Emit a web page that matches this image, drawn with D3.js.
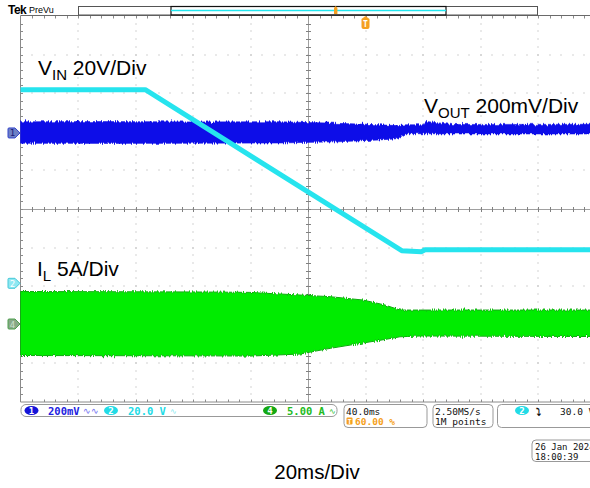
<!DOCTYPE html>
<meta charset="utf-8">
<script src="https://d3js.org/d3.v7.min.js"></script>
<style>
    body { margin: 0; background: #fff; }
    svg { display: block; }
    .big { font-family: "Liberation Sans", Arial, sans-serif; fill: #000; }
    .scope { font-family: "DejaVu Sans Mono", monospace; font-size: 9.5px; }
</style>
<div id="chart"></div>
<script>
    // time axis: 20 ms/div, 10 divisions, trigger at 60 %
    var timeDomain = [0, 200];

    // CH2 Vin (V), 20 V/div
    var vinTime = [0, 43.4, 132.6, 139.5, 140.7, 200];
    var vinVolts = [100.3, 100.3, 16.9, 16.4, 17.4, 17.4];

    // CH1 Vout band (mV), 200 mV/div : upper / lower envelope
    var voutTime = [0, 30, 60, 90, 110, 125, 131, 134, 140, 141, 150, 200];
    var voutUpper = [58, 59, 57, 58, 50, 42, 38, 42, 42, 60, 44, 45];
    var voutLower = [-53, -54, -53, -52, -46, -36, -30, -4, -4, -4, -5, -5];

    // CH4 IL band (A), 5 A/div : upper / lower envelope
    var ilTime = [0, 62.4, 79.8, 83.3, 97.2, 107.7, 119.1, 126.8, 132, 139, 200];
    var ilUpper = [4.21, 4.15, 4.1, 4.02, 3.76, 3.54, 3.11, 2.46, 1.81, 1.81, 1.81];
    var ilLower = [-4.08, -4.12, -4.15, -4.1, -3.89, -3.15, -2.46, -2.0, -1.65, -1.55, -1.62];

    // channel offsets (divisions from centre) and scales (units/div)
    var chOffset = { ch1: 1.97, ch2: -1.925, ch4: -2.98 };
    var chScale = { ch1: 200, ch2: 20, ch4: 5 };

    var W = 590, H = 488;
    var gLeft = 20.5, divW = 57.5, gTop = 16, divH = 38.6;

    var svg = d3.select("#chart").append("svg").attr("width", W).attr("height", H);

    // sampling noise look on the dense traces (vertical jitter of the edges only)
    var defs = svg.append("defs");
    var flt = defs.append("filter").attr("id", "jitter").attr("x", "0%").attr("y", "-30%")
        .attr("width", "100%").attr("height", "160%");
    flt.append("feTurbulence").attr("type", "fractalNoise").attr("baseFrequency", "0.9 0.02")
        .attr("numOctaves", 2).attr("seed", 3).attr("result", "n");
    flt.append("feColorMatrix").attr("in", "n").attr("type", "matrix")
        .attr("values", "0 0 0 0 0.5  0 1 0 0 0  0 0 1 0 0  0 0 0 0 1").attr("result", "n2");
    flt.append("feDisplacementMap").attr("in", "SourceGraphic").attr("in2", "n2")
        .attr("scale", 5).attr("xChannelSelector", "R").attr("yChannelSelector", "G");

    var x = d3.scaleLinear().domain(timeDomain).range([gLeft, gLeft + 10 * divW]);
    var yDiv = d3.scaleLinear().domain([5, -5]).range([gTop, gTop + 10 * divH]);
    var gBottom = yDiv(-5);

    function chY(ch) {
        return function (v) { return yDiv(v / chScale[ch] + chOffset[ch]); };
    }
    var y1 = chY("ch1"), y2 = chY("ch2"), y4 = chY("ch4");

    // ---------- graticule ----------
    var grid = svg.append("g");
    var xMajor = d3.range(1, 10).filter(d => d != 5);
    var yMajor = d3.range(-4, 5).filter(d => d != 0);
    var minorT = d3.range(1, 50);

    // dotted grid: dots every 1/5 division along major lines
    xMajor.forEach(function (i) {
        var gx = Math.round(x(i * 20));
        minorT.forEach(function (k) {
            grid.append("rect").attr("x", gx - 0.5).attr("y", Math.round(yDiv(5 - k / 5)) - 0.5)
                .attr("width", 1).attr("height", 1).attr("fill", "#a8a8a8");
        });
    });
    yMajor.forEach(function (j) {
        var gy = Math.round(yDiv(j));
        minorT.forEach(function (k) {
            grid.append("rect").attr("x", Math.round(x(k * 4)) - 0.5).attr("y", gy - 0.5)
                .attr("width", 1).attr("height", 1).attr("fill", "#a8a8a8");
        });
    });

    // centre cross with ticks
    var cx = Math.round(x(100)) + 0.5, cy = Math.round(yDiv(0)) + 0.5;
    grid.append("line").attr("x1", gLeft).attr("x2", W).attr("y1", cy).attr("y2", cy)
        .attr("stroke", "#a0a0a0").attr("stroke-width", 1);
    grid.append("line").attr("x1", cx).attr("x2", cx).attr("y1", gTop).attr("y2", gBottom)
        .attr("stroke", "#a0a0a0").attr("stroke-width", 1);
    minorT.forEach(function (k) {
        var tx = Math.round(x(k * 4)) + 0.5, ty = Math.round(yDiv(5 - k / 5)) + 0.5;
        grid.append("line").attr("x1", tx).attr("x2", tx).attr("y1", cy - 2.5).attr("y2", cy + 2.5)
            .attr("stroke", "#808080");
        grid.append("line").attr("x1", cx - 2.5).attr("x2", cx + 2.5).attr("y1", ty).attr("y2", ty)
            .attr("stroke", "#808080");
    });

    // frame
    grid.append("line").attr("x1", gLeft).attr("x2", W).attr("y1", gTop - 0.5).attr("y2", gTop - 0.5)
        .attr("stroke", "#6a6a6a");
    grid.append("line").attr("x1", gLeft).attr("x2", W).attr("y1", gBottom).attr("y2", gBottom)
        .attr("stroke", "#8a8a8a");
    grid.append("line").attr("x1", gLeft).attr("x2", gLeft).attr("y1", gTop - 0.5).attr("y2", gBottom)
        .attr("stroke", "#8a8a8a");
    minorT.forEach(function (k) {
        var tx = Math.round(x(k * 4)) + 0.5, ty = Math.round(yDiv(5 - k / 5)) + 0.5;
        grid.append("line").attr("x1", tx).attr("x2", tx).attr("y1", gTop).attr("y2", gTop + 2.5).attr("stroke", "#8a8a8a");
        grid.append("line").attr("x1", tx).attr("x2", tx).attr("y1", gBottom - 2.5).attr("y2", gBottom).attr("stroke", "#8a8a8a");
        grid.append("line").attr("x1", gLeft).attr("x2", gLeft + 2.5).attr("y1", ty).attr("y2", ty).attr("stroke", "#8a8a8a");
    });

    // ---------- waveforms ----------
    var voutData = voutTime.map((t, i) => ({ t: t, hi: voutUpper[i], lo: voutLower[i] }));
    var ilData = ilTime.map((t, i) => ({ t: t, hi: ilUpper[i], lo: ilLower[i] }));
    var vinData = vinTime.map((t, i) => ({ t: t, v: vinVolts[i] }));

    var plot = svg.append("g");

    plot.append("path").datum(voutData)
        .attr("d", d3.area().x(d => x(d.t)).y0(d => y1(d.lo)).y1(d => y1(d.hi)))
        .attr("fill", "#0b0be8").attr("stroke", "#0b0be8").attr("stroke-width", 0.6)
        .attr("filter", "url(#jitter)");

    plot.append("path").datum(ilData)
        .attr("d", d3.area().x(d => x(d.t)).y0(d => y4(d.lo)).y1(d => y4(d.hi)))
        .attr("fill", "#05ec05").attr("stroke", "#12a812").attr("stroke-width", 1)
        .attr("filter", "url(#jitter)");

    plot.append("path").datum(vinData)
        .attr("d", d3.line().x(d => x(d.t)).y(d => y2(d.v)))
        .attr("fill", "none").attr("stroke", "#26e4ee").attr("stroke-width", 5)
        .attr("stroke-linejoin", "round");

    // ---------- ground markers ----------
    function marker(yy, label, fill, stroke, txt) {
        var g = svg.append("g").attr("transform", `translate(0,${yy})`);
        g.append("path").attr("d", "M9,-5 L15,-5 L20,0 L15,5 L9,5 Q8,5 8,4 L8,-4 Q8,-5 9,-5 Z")
            .attr("fill", fill).attr("stroke", stroke).attr("stroke-width", 1);
        g.append("text").attr("x", 12.5).attr("y", 3.5).attr("text-anchor", "middle")
            .attr("class", "scope").style("font-size", "9px").attr("fill", txt).text(label);
    }
    marker(y1(0), "1", "#6d7fc4", "#3344cc", "#1a1a7a");
    marker(y2(0), "2", "#8fe8f2", "#45c8d8", "#ffffff");
    marker(y4(0), "4", "#88a888", "#4da04d", "#c8e0c8");

    // ---------- header ----------
    svg.append("text").attr("x", 8).attr("y", 14).attr("class", "big")
        .style("font-size", "12px").style("font-weight", "bold").style("letter-spacing", "-0.5px").text("Tek");
    svg.append("text").attr("x", 29).attr("y", 13).attr("class", "big")
        .style("font-size", "9px").text("PreVu");
    svg.append("rect").attr("x", 78.5).attr("y", 6.5).attr("width", 459).attr("height", 8.5)
        .attr("fill", "#fff").attr("stroke", "#555").attr("stroke-width", 1);
    svg.append("rect").attr("x", 171).attr("y", 6.5).attr("width", 275).attr("height", 8.5)
        .attr("fill", "none").attr("stroke", "#111").attr("stroke-width", 1.2);
    svg.append("line").attr("x1", 171).attr("x2", 446).attr("y1", 10.5).attr("y2", 10.5)
        .attr("stroke", "#22e6ef").attr("stroke-width", 1.5);
    svg.append("path").attr("d", "M334,14 L334,8 L335.7,6 L337.4,8 L337.4,14 Z").attr("fill", "#f5a020");
    // trigger position marker
    var tx = x(120);
    svg.append("path").attr("d", `M${tx - 4},19 L${tx},16 L${tx + 4},19 L${tx + 4},27 Q${tx + 4},29 ${tx + 2},29 L${tx - 2},29 Q${tx - 4},29 ${tx - 4},27 Z`)
        .attr("fill", "#f5a020");
    svg.append("text").attr("x", tx).attr("y", 27).attr("text-anchor", "middle").attr("class", "scope")
        .style("font-size", "8px").style("font-weight", "bold").attr("fill", "#fff").text("T");

    // ---------- annotations ----------
    function label(xx, yy, main, sub, rest) {
        var t = svg.append("text").attr("x", xx).attr("y", yy).attr("class", "big").style("font-size", "21px");
        t.append("tspan").text(main);
        t.append("tspan").attr("dy", 5).style("font-size", "15px").text(sub);
        t.append("tspan").attr("dy", -5).text(" " + rest);
    }
    label(38, 75, "V", "IN", "20V/Div");
    label(424, 113, "V", "OUT", "200mV/Div");
    label(37, 276, "I", "L", "5A/Div");
    svg.append("text").attr("x", 317).attr("y", 479).attr("text-anchor", "middle").attr("class", "big")
        .style("font-size", "20.5px").text("20ms/Div");

    // ---------- status bar ----------
    var bar = svg.append("g").attr("class", "scope");
    bar.append("rect").attr("x", 21).attr("y", 404.5).attr("width", 316).attr("height", 12).attr("rx", 5)
        .attr("fill", "#fff").attr("stroke", "#999");
    function chip(cxp, label, fill) {
        bar.append("ellipse").attr("cx", cxp).attr("cy", 410.5).attr("rx", 7).attr("ry", 4.5).attr("fill", fill);
        bar.append("text").attr("x", cxp).attr("y", 414).attr("text-anchor", "middle").attr("fill", "#fff")
            .style("font-size", "9px").style("font-weight", "bold").text(label);
    }
    chip(31.5, "1", "#1414d8");
    bar.append("text").attr("x", 48).attr("y", 414.5).attr("fill", "#2222e0").style("font-weight", "bold").style("font-size", "10.5px").text("200mV");
    bar.append("text").attr("x", 83).attr("y", 414).attr("fill", "#6a6af0").style("font-size", "9px").text("∿∿");
    chip(111, "2", "#22dbe6");
    bar.append("text").attr("x", 128).attr("y", 414.5).attr("fill", "#22dbe6").style("font-weight", "bold").style("font-size", "10.5px").text("20.0 V");
    bar.append("text").attr("x", 170).attr("y", 414).attr("fill", "#7fe8ef").style("font-size", "8px").text("∿");
    chip(270, "4", "#13a813");
    bar.append("text").attr("x", 287).attr("y", 414.5).attr("fill", "#22bb22").style("font-weight", "bold").style("font-size", "10.5px").text("5.00 A");
    bar.append("text").attr("x", 329).attr("y", 414).attr("fill", "#22bb22").style("font-size", "8px").text("∿");

    bar.append("rect").attr("x", 344).attr("y", 404.5).attr("width", 83).attr("height", 23).attr("rx", 4)
        .attr("fill", "#fff").attr("stroke", "#999");
    bar.append("text").attr("x", 346).attr("y", 414.5).attr("fill", "#111").text("40.0ms");
    bar.append("rect").attr("x", 346.5).attr("y", 417.5).attr("width", 6).attr("height", 7).attr("rx", 1).attr("fill", "#f5a020");
    bar.append("text").attr("x", 349.5).attr("y", 424).attr("text-anchor", "middle").attr("fill", "#fff")
        .style("font-size", "7px").style("font-weight", "bold").text("T");
    bar.append("text").attr("x", 355).attr("y", 425).attr("fill", "#f5a020").style("font-weight", "bold").text("60.00 %");

    bar.append("rect").attr("x", 433).attr("y", 404.5).attr("width", 60).attr("height", 23).attr("rx", 4)
        .attr("fill", "#fff").attr("stroke", "#999");
    bar.append("text").attr("x", 435).attr("y", 414.5).attr("fill", "#111").text("2.50MS/s");
    bar.append("text").attr("x", 435).attr("y", 425).attr("fill", "#111").text("1M points");

    bar.append("rect").attr("x", 497.5).attr("y", 404.5).attr("width", 110).attr("height", 23).attr("rx", 4)
        .attr("fill", "#fff").attr("stroke", "#999");
    chip(522, "2", "#22dbe6");
    bar.append("text").attr("x", 536).attr("y", 414.5).attr("fill", "#111").style("font-weight", "bold").text("⤵");
    bar.append("text").attr("x", 560).attr("y", 414.5).attr("fill", "#111").text("30.0 V");

    bar.append("rect").attr("x", 532).attr("y", 440).attr("width", 80).attr("height", 21.5).attr("rx", 4)
        .attr("fill", "#fff").attr("stroke", "#999");
    bar.append("text").attr("x", 535).attr("y", 449.5).attr("fill", "#111").style("font-size", "9px").text("26 Jan 2024");
    bar.append("text").attr("x", 535).attr("y", 459.5).attr("fill", "#111").style("font-size", "9px").text("18:00:39");
</script>
